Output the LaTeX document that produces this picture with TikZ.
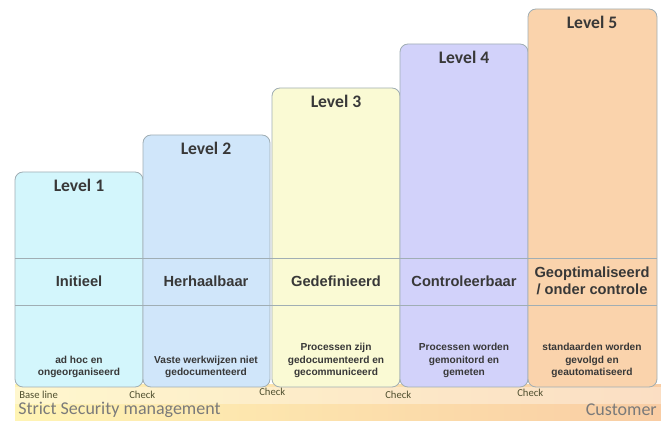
\documentclass[tikz,border=0pt]{standalone}
\usepackage{fontspec}
\setmainfont{Liberation Sans}
\newfontfamily\calib{Carlito}
\definecolor{cA}{HTML}{D3F6FC}
\definecolor{cB}{HTML}{D0E6FA}
\definecolor{cC}{HTML}{FAFAD4}
\definecolor{cD}{HTML}{D2D2FA}
\definecolor{cE}{HTML}{FAD3AC}
\definecolor{edge}{HTML}{A0AEB4}
\definecolor{txt}{HTML}{383838}
\definecolor{bandY}{HTML}{FFF4B4}
\definecolor{bandO}{HTML}{F9CDA4}
\definecolor{grayt}{HTML}{7A7A7A}
\definecolor{chk}{HTML}{505030}
\tikzset{
  box/.style={draw=edge, line width=0.6pt, rounded corners=6pt},
  lvl/.style={font=\calib\bfseries\fontsize{13.2}{15}\selectfont, text=txt, inner sep=0pt},
  ttl/.style={font=\bfseries\fontsize{11}{13}\selectfont, text=txt, align=center, inner sep=0pt},
  dsc/.style={font=\bfseries\fontsize{7.6}{9.3}\selectfont, text=txt, align=center, inner sep=0pt, anchor=south},
  chklbl/.style={font=\calib\fontsize{8}{9}\selectfont, text=chk, inner sep=0pt, anchor=west},
  big/.style={font=\calib\fontsize{13.5}{15}\selectfont, text=grayt, inner sep=0pt}
}
\begin{document}
\begin{tikzpicture}[x=0.75pt,y=-0.75pt]
\useasboundingbox (0,0) rectangle (661,423);
% bottom band
\shade[left color=bandY, right color=bandO] (15,385) rectangle (661,421);
\shade[top color=white, bottom color=white, middle color=white, opacity=0.35] (15,388) rectangle (661,404);
% boxes
\path[box, fill=cA] (15,387) rectangle (143,172);
\path[box, fill=cB] (143,387) rectangle (270,135);
\path[box, fill=cC] (272,387) rectangle (400,88);
\path[box, fill=cD] (400,387) rectangle (528,44);
\path[box, fill=cE] (528,387) rectangle (657,9);
% separators
\draw[edge, line width=0.6pt] (15,258) -- (657,258);
\draw[edge, line width=0.6pt] (15,305) -- (657,305);
% level labels
\node[lvl] (l1) at (79,185) {Level 1};
\node[lvl] (l2) at (206,148) {Level 2};
\node[lvl] (l3) at (336,101) {Level 3};
\node[lvl] (l4) at (464,57) {Level 4};
\node[lvl] (l5) at (592,22) {Level 5};
% titles
\node[ttl] (t1) at (79,281) {Initieel};
\node[ttl] (t2) at (206,281) {Herhaalbaar};
\node[ttl] (t3) at (336,281) {Gedefinieerd};
\node[ttl] (t4) at (464,281) {Controleerbaar};
\node[ttl] (t5) at (592,281) {Geoptimaliseerd\\/ onder controle};
% descriptions
\node[dsc] (d1) at (79,378) {ad hoc en\\ongeorganiseerd};
\node[dsc] (d2) at (206,378) {Vaste werkwijzen niet\\gedocumenteerd};
\node[dsc] (d3) at (336,378) {Processen zijn\\gedocumenteerd en\\gecommuniceerd};
\node[dsc] (d4) at (464,378) {Processen worden\\gemonitord en\\gemeten};
\node[dsc] (d5) at (592,378) {standaarden worden\\gevolgd en\\geautomatiseerd};
% check labels
\node[chklbl] (b0) at (19,395) {Base line};
\node[chklbl] (c1) at (129,395) {Check};
\node[chklbl] (c2) at (259,392) {Check};
\node[chklbl] (c3) at (385,395) {Check};
\node[chklbl] (c4) at (517,393) {Check};
% band texts
\node[big, anchor=west] (ssm) at (18,410) {Strict Security management};
\node[big, anchor=east] (cust) at (657,410) {Customer};
\end{tikzpicture}
\end{document}
